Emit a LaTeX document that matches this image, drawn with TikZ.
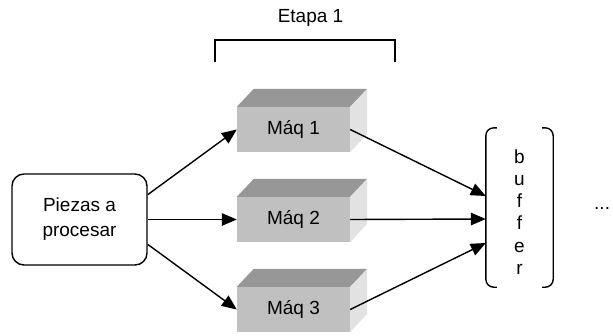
\documentclass[tikz,border=0pt]{standalone}
\usepackage{fontspec}
\setmainfont{Liberation Sans}
\usetikzlibrary{arrows.meta,calc}

\definecolor{boxfront}{HTML}{C0C0C0}
\definecolor{boxtop}{HTML}{979797}
\definecolor{boxside}{HTML}{E2E2E2}

\tikzset{
  lbl/.style={font=\fontsize{19}{25}\selectfont, inner sep=0pt},
  conn/.style={line width=1.4pt, -{Triangle[length=15pt,width=12.5pt]}},
  frame/.style={line width=1.4pt},
  machine/.style={lbl, fill=boxfront, minimum width=113pt, minimum height=45pt},
}

% A machine drawn as a shaded block: front face node plus top and side faces
\newcommand{\machineblock}[4]{%
  \node[machine] (#1) at (#2,#3) {#4};
  \fill[boxtop] (#1.north west) -- ++(17,-18) -- ($(#1.north east)+(17,-18)$)
    -- (#1.north east) -- cycle;
  \fill[boxside] (#1.north east) -- ++(17,-18) -- ++(0,45) -- (#1.south east) -- cycle;
}

\begin{document}
\begin{tikzpicture}[x=1pt,y=-1pt]
  \useasboundingbox (0,0) rectangle (613,335);

  % stage title and its bracket
  \node[lbl] (etapa) at (310.5,18) {Etapa 1};
  \coordinate (brL) at (215,62);
  \coordinate (brR) at (395,62);
  \draw[frame] (brL) |- (305,40) -| (brR);

  % input pieces
  \node[lbl, draw, frame, rounded corners=12pt, minimum width=135pt,
        minimum height=91pt, align=center] (piezas) at (79.5,219.5)
        {Piezas a\\procesar};

  % machines of the stage
  \machineblock{m1}{293.5}{129.5}{Máq 1}
  \machineblock{m2}{293.5}{219.5}{Máq 2}
  \machineblock{m3}{293.5}{309.5}{Máq 3}

  % buffer with its round-cornered brackets
  \node[minimum width=67pt, minimum height=159pt, inner sep=0pt] (buffer) at (519.5,207.5) {};
  \draw[frame, rounded corners=8pt]
    ($(buffer.north west)+(11,0)$) -- (buffer.north west) -- (buffer.south west)
    -- ($(buffer.south west)+(11,0)$);
  \draw[frame, rounded corners=8pt]
    ($(buffer.north east)+(-11,0)$) -- (buffer.north east) -- (buffer.south east)
    -- ($(buffer.south east)+(-11,0)$);
  \node[lbl, align=center, font=\fontsize{19}{22.2}\selectfont] (bufftext) at (519.5,212)
    {b\\u\\f\\f\\e\\r};

  \coordinate (in1) at ($(buffer.west)+(0,-11.5)$);
  \coordinate (in2) at ($(buffer.west)+(0,11.5)$);
  \coordinate (in3) at ($(buffer.west)+(0,35.5)$);

  % further stages
  \node[lbl, anchor=base west] (more) at (594,209.5) {...};

  % flow of pieces
  \draw[conn] (piezas.20) -- (m1.west);
  \draw[conn] (piezas.east) -- (m2.west);
  \draw[conn] (piezas.-20) -- (m3.west);
  \draw[conn] (m1.east) -- (in1);
  \draw[conn] (m2.east) -- (in2);
  \draw[conn] (m3.east) -- (in3);
\end{tikzpicture}
\end{document}
